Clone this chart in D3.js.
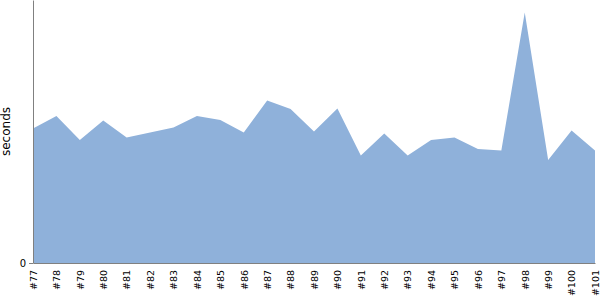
<!DOCTYPE html>
<html>
<head>
<meta charset="utf-8">
<script src="https://cdn.jsdelivr.net/npm/d3@7"></script>
<style>
  html, body { margin: 0; padding: 0; background: #fff; }
  svg { display: block; }
  svg text { font-family: "DejaVu Sans", Verdana, sans-serif; }
</style>
</head>
<body>
<div id="chart"></div>
<script>
// build numbers on the x axis
const builds = ["#77", "#78", "#79", "#80", "#81", "#82", "#83", "#84", "#85", "#86",
  "#87", "#88", "#89", "#90", "#91", "#92", "#93", "#94", "#95", "#96",
  "#97", "#98", "#99", "#100", "#101"];

// duration per build (seconds)
const seconds = [26.9, 29.4, 24.6, 28.5, 25.1, 26.1, 27.1, 29.4, 28.6, 26.1,
  32.5, 30.8, 26.3, 30.9, 21.5, 25.9, 21.5, 24.6, 25.1, 22.8,
  22.5, 50.1, 20.6, 26.5, 22.5];

const yTicks = [0];

const W = 600, H = 300;
const margin = { top: 0, right: 5, bottom: 37, left: 33 };
const width = W - margin.left - margin.right;
const height = H - margin.top - margin.bottom;

const data = builds.map((b, i) => ({ build: b, value: seconds[i] }));

const svg = d3.select("#chart").append("svg")
  .attr("width", W)
  .attr("height", H);

const g = svg.append("g")
  .attr("transform", `translate(${margin.left},${margin.top})`);

// --- Scales ---
const x = d3.scalePoint()
  .domain(builds)
  .range([0, width]);

const y = d3.scaleLinear()
  .domain([0, d3.max(seconds) * 1.05])
  .range([height, 0]);

// --- Area ---
const area = d3.area()
  .x(d => x(d.build))
  .y0(y(0))
  .y1(d => y(d.value));

g.append("path")
  .datum(data)
  .attr("fill", "#8fb1da")
  .attr("d", area);

// --- Axes ---
const xAxisG = g.append("g")
  .attr("transform", `translate(0,${height})`)
  .call(d3.axisBottom(x).tickSize(0).tickPadding(0));

xAxisG.select(".domain").attr("stroke", "#808080");
xAxisG.selectAll("text")
  .attr("transform", "rotate(-90)")
  .attr("x", -7)
  .attr("y", 0)
  .attr("dy", "0.35em")
  .style("text-anchor", "end")
  .attr("font-size", "9.5px")
  .attr("fill", "#000");

const yAxisG = g.append("g")
  .call(d3.axisLeft(y).tickValues(yTicks).tickSize(4).tickSizeOuter(0).tickPadding(3));

yAxisG.select(".domain").attr("stroke", "#808080");
yAxisG.selectAll(".tick line").attr("stroke", "#808080");
yAxisG.selectAll("text")
  .attr("font-size", "10px")
  .attr("fill", "#000");

// y title
g.append("text")
  .attr("transform", "rotate(-90)")
  .attr("x", -height / 2)
  .attr("y", -23)
  .attr("text-anchor", "middle")
  .attr("font-size", "12px")
  .attr("fill", "#000")
  .text("seconds");
</script>
</body>
</html>
